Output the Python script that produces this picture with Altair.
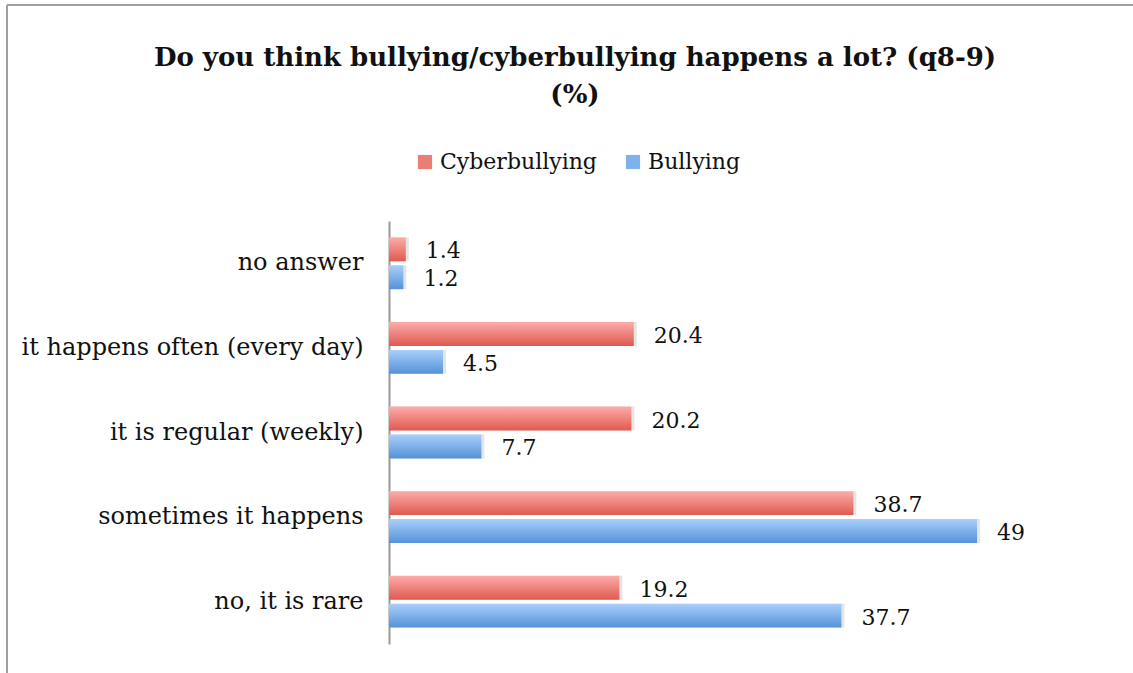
import altair as alt
import pandas as pd

categories = ["no answer", "it happens often (every day)", "it is regular (weekly)",
              "sometimes it happens", "no, it is rare"]
series_names = ["Cyberbullying", "Bullying"]
cyberbullying = [1.4, 20.4, 20.2, 38.7, 19.2]
bullying = [1.2, 4.5, 7.7, 49, 37.7]

rows = []
for c, v in zip(categories, cyberbullying):
    rows.append({"category": c, "series": "Cyberbullying", "value": v})
for c, v in zip(categories, bullying):
    rows.append({"category": c, "series": "Bullying", "value": v})
df = pd.DataFrame(rows)

FONT = "DejaVu Serif"

red_grad = alt.Gradient(
    gradient="linear", x1=0, x2=0, y1=0, y2=1,
    stops=[alt.GradientStop(color="#fdaca9", offset=0),
           alt.GradientStop(color="#df5a50", offset=1)])
blue_grad = alt.Gradient(
    gradient="linear", x1=0, x2=0, y1=0, y2=1,
    stops=[alt.GradientStop(color="#a9cffb", offset=0),
           alt.GradientStop(color="#5592d8", offset=1)])

x_enc = alt.X("value:Q", scale=alt.Scale(domain=[0, 60], nice=False), axis=None)
y_enc = alt.Y("category:N", sort=categories,
              scale=alt.Scale(paddingInner=0.388, paddingOuter=0.194),
              axis=alt.Axis(title=None, ticks=False, grid=False,
                            domainColor="#9a9a9a", domainWidth=2,
                            labelFont=FONT, labelFontSize=24, labelColor="#111111",
                            labelPadding=26, labelLimit=400))
yoff_enc = alt.YOffset("series:N", sort=series_names,
                       scale=alt.Scale(domain=series_names, paddingInner=0.143, paddingOuter=0))

base = alt.Chart(df)

shadow = base.mark_bar(fill="#000000", opacity=0.10, xOffset=3, yOffset=3).encode(
    x=x_enc, y=y_enc, yOffset=yoff_enc)

red_bars = base.transform_filter(alt.datum.series == "Cyberbullying").mark_bar(
    fill=red_grad, cornerRadius=0).encode(x=x_enc, y=y_enc, yOffset=yoff_enc)
blue_bars = base.transform_filter(alt.datum.series == "Bullying").mark_bar(
    fill=blue_grad, cornerRadius=0).encode(x=x_enc, y=y_enc, yOffset=yoff_enc)

labels = base.mark_text(align="left", baseline="middle", dx=20, dy=2,
                        font=FONT, fontSize=22, color="#111111").encode(
    x=x_enc, y=y_enc, yOffset=yoff_enc, text=alt.Text("value:Q"))

legend_layer = base.mark_square(opacity=0, size=10).encode(
    x=x_enc, y=y_enc,
    color=alt.Color("series:N", sort=series_names,
                    scale=alt.Scale(domain=series_names, range=["#ec7d76", "#7fb1ec"]),
                    legend=alt.Legend(title=None, orient="none", direction="horizontal",
                                      legendX=25, legendY=-70, symbolType="square",
                                      symbolSize=200, symbolOpacity=1, symbolStrokeWidth=0,
                                      labelFont=FONT, labelFontSize=22, labelColor="#111111",
                                      columnPadding=25, labelOffset=4)))

frame = alt.Chart(pd.DataFrame({"k": [0]})).mark_rule(color="#a0a0a0", strokeWidth=2).encode(
    x=alt.value(-382), x2=alt.value(760), y=alt.value(-216), y2=alt.value(-216))
frame_left = alt.Chart(pd.DataFrame({"k": [0]})).mark_rule(color="#a0a0a0", strokeWidth=2).encode(
    x=alt.value(-382), y=alt.value(-216), y2=alt.value(460))

chart = alt.layer(frame, frame_left, legend_layer, shadow, red_bars, blue_bars, labels).properties(
    width=720, height=423,
    background="white",
    autosize=alt.AutoSizeParams(type="none"),
    padding={"left": 389, "top": 221, "right": 24, "bottom": 29},
    title=alt.TitleParams(
        text=["Do you think bullying/cyberbullying happens a lot? (q8-9)", "(%)"],
        font=FONT, fontSize=26, fontWeight="bold", color="#111111",
        anchor="middle", frame="group", dx=-174, offset=-104, lineHeight=37),
).configure_view(strokeOpacity=0, strokeWidth=0)

chart.save("out.html", embed_options={"renderer": "svg", "actions": False})
